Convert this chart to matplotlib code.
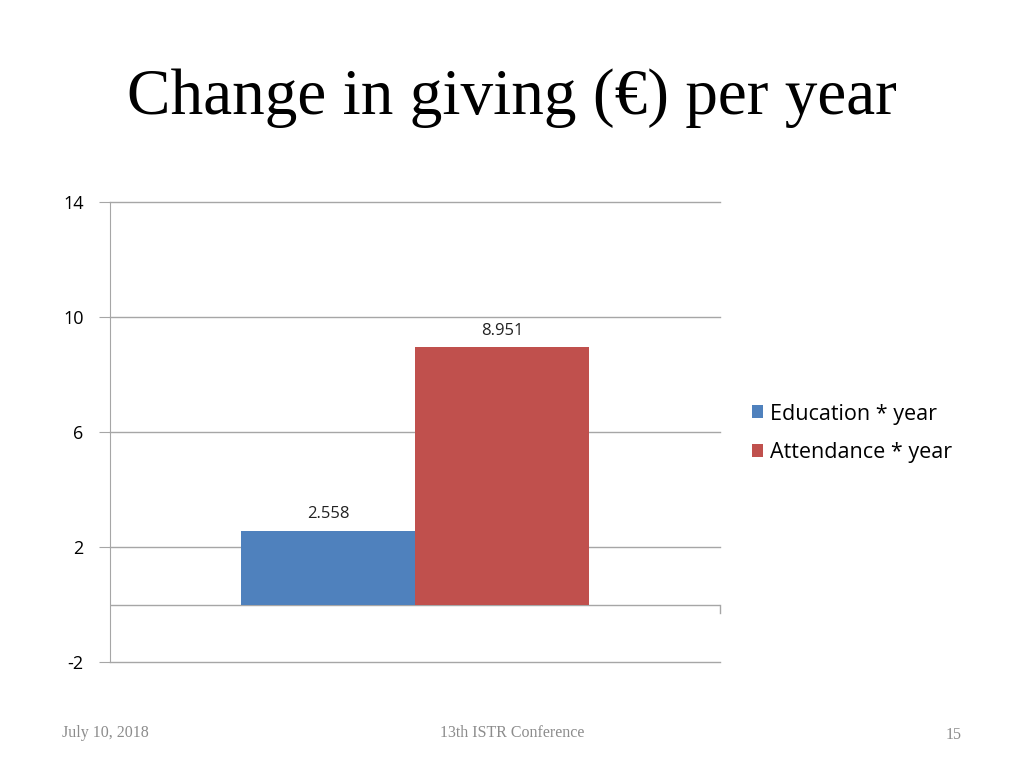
import matplotlib.pyplot as plt
import numpy as np

# chart data
series = ['Education * year', 'Attendance * year']
values = [2.558, 8.951]
colors = ['#4f81bd', '#c0504d']
labels = ['2.558', '8.951']
yticks = [-2, 2, 6, 10, 14]

fig = plt.figure(figsize=(10.24, 7.68), dpi=100)
ax = fig.add_axes([110/1024, (768-662)/768, 610/1024, 460/768])

width = 0.285
offs = [-width/2, width/2]
for i in range(len(series)):
    ax.bar(0 + offs[i], values[i], width, color=colors[i], label=series[i], zorder=3)
    ax.text(0 + offs[i], values[i] + 0.3, labels[i], ha='center', va='bottom',
            fontsize=12, family='Open Sans', color='#222222')

ax.set_xlim(-0.5, 0.5)
ax.set_ylim(-2, 14)
ax.set_yticks(yticks)
ax.set_yticklabels([str(t) for t in yticks], fontsize=13, family='Open Sans')
ax.yaxis.grid(True, color='#a6a6a6', lw=1)
for gl in ax.get_ygridlines():
    gl.set_clip_on(False)
ax.set_axisbelow(True)
ax.tick_params(axis='y', length=8, color='#a6a6a6', pad=11)
ax.set_xticks([])
for s in ['top', 'right', 'bottom']:
    ax.spines[s].set_visible(False)
ax.spines['left'].set_color('#a6a6a6')
# zero line with category tick at the right end
ax.axhline(0, color='#a6a6a6', lw=1, zorder=2)
ax.plot([0.5, 0.5], [0, -0.3], color='#a6a6a6', lw=1, clip_on=False)

leg = ax.legend(loc='center left', bbox_to_anchor=(1.02, 0.497), frameon=False,
                prop={'family': 'Open Sans', 'size': 15.5}, handlelength=0.55,
                handleheight=0.55, handletextpad=0.3, labelspacing=0.82)

fig.text(512/1024, 1 - 98/768, 'Change in giving (€) per year', ha='center', va='center',
         fontsize=47, family='Liberation Serif', color='black')
fig.text(62/1024, 1 - 733/768, 'July 10, 2018', ha='left', va='center',
         fontsize=11.5, family='Liberation Serif', color='#8c8c8c')
fig.text(512/1024, 1 - 733/768, '13th ISTR Conference', ha='center', va='center',
         fontsize=11.5, family='Liberation Serif', color='#8c8c8c')
fig.text(962/1024, 1 - 735/768, '15', ha='right', va='center',
         fontsize=11.5, family='Liberation Serif', color='#8c8c8c')

fig.savefig('out.png', dpi=100)
